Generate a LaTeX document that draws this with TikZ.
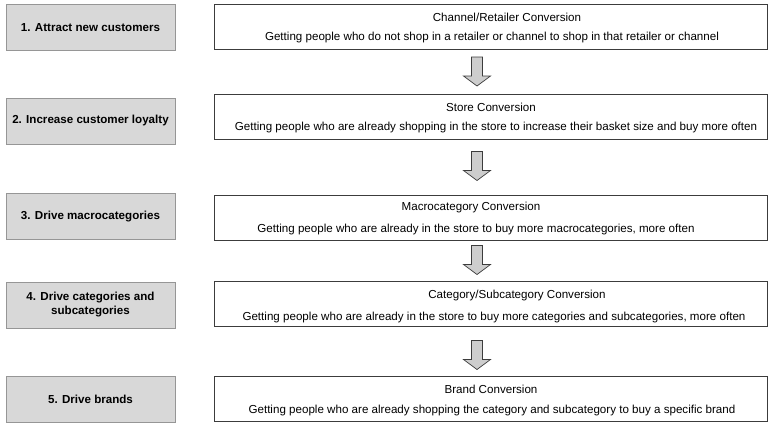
\documentclass[tikz,border=0pt]{standalone}
\usepackage{fontspec}
\setmainfont{Liberation Sans}
\definecolor{boxgray}{RGB}{216,216,216}
\definecolor{boxedge}{RGB}{150,150,150}
\definecolor{lineedge}{RGB}{60,60,60}
\definecolor{arrowfill}{RGB}{205,205,205}
\tikzset{
  stagebox/.style={draw=boxedge, fill=boxgray, line width=0.9pt,
    minimum width=169pt, minimum height=46pt, inner sep=0pt,
    align=center, font=\fontsize{11.6}{14}\selectfont\bfseries},
  convbox/.style={draw=lineedge, fill=white, line width=0.9pt,
    minimum width=553pt, minimum height=45pt, inner sep=0pt},
  convtext/.style={inner sep=0pt, font=\fontsize{11.6}{13}\selectfont},
  blockarrow/.style={draw=lineedge, fill=arrowfill, line width=0.7pt, line join=miter}
}
% block arrow pointing down, centred on the given coordinate
\newcommand{\downblock}[1]{%
  \draw[blockarrow] ([shift={(-5.5,-14.5)}]#1) -- ([shift={(5.5,-14.5)}]#1)
    -- ([shift={(5.5,4.5)}]#1) -- ([shift={(13.5,4.5)}]#1)
    -- ([shift={(0,14.5)}]#1) -- ([shift={(-13.5,4.5)}]#1)
    -- ([shift={(-5.5,4.5)}]#1) -- cycle;}
\begin{document}
\begin{tikzpicture}[x=1pt,y=-1pt]
  \useasboundingbox (0,0) rectangle (769,423);
  \fill[white] (0,0) rectangle (769,423);

  % left column: stages
  \node[stagebox] (s1) at (90.5,27.5)  {1. Attract new customers};
  \node[stagebox] (s2) at (90.5,121)   {2. Increase customer loyalty};
  \node[stagebox] (s3) at (90.5,216.5) {3. Drive macrocategories};
  \node[stagebox] (s4) at (90.5,305)   {4. Drive categories and\\subcategories};
  \node[stagebox] (s5) at (90.5,399.5) {5. Drive brands};

  % right column: conversion boxes
  \node[convbox] (c1) at (491,27)    {};
  \node[convbox] (c2) at (491,116.5) {};
  \node[convbox] (c3) at (491,217.5) {};
  \node[convbox] (c4) at (491,304)   {};
  \node[convbox] (c5) at (491,399)   {};

  \node[convtext] (t1) at (507,17)  {Channel/Retailer Conversion};
  \node[convtext] (b1) at (492,38)  {Getting people who do not shop in a retailer or channel to shop in that retailer or channel};
  \node[convtext] (t2) at (491,107) {Store Conversion};
  \node[convtext] (b2) at (496,128) {Getting people who are already shopping in the store to increase their basket size and buy more often};
  \node[convtext] (t3) at (471,207) {Macrocategory Conversion};
  \node[convtext] (b3) at (476,229) {Getting people who are already in the store to buy more macrocategories, more often};
  \node[convtext] (t4) at (517,295) {Category/Subcategory Conversion};
  \node[convtext] (b4) at (494,317) {Getting people who are already in the store to buy more categories and subcategories, more often};
  \node[convtext] (t5) at (491,389) {Brand Conversion};
  \node[convtext] (b5) at (492,410) {Getting people who are already shopping the category and subcategory to buy a specific brand};

  % block arrows between conversion steps
  \coordinate (a1) at (477,71.5);
  \coordinate (a2) at (477,166);
  \coordinate (a3) at (477,260);
  \coordinate (a4) at (477,355);
  \downblock{a1}
  \downblock{a2}
  \downblock{a3}
  \downblock{a4}
\end{tikzpicture}
\end{document}
